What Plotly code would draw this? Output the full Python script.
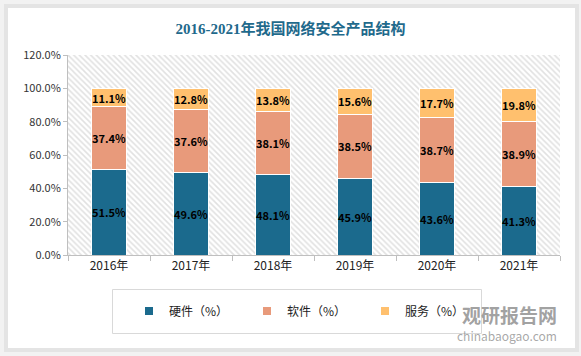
import plotly.graph_objects as go

years = ["2016年", "2017年", "2018年", "2019年", "2020年", "2021年"]
hardware = [51.5, 49.6, 48.1, 45.9, 43.6, 41.3]
software = [37.4, 37.6, 38.1, 38.5, 38.7, 38.9]
service = [11.1, 12.8, 13.8, 15.6, 17.7, 19.8]
series_names = ["硬件（%）", "软件（%）", "服务（%）"]
colors = ["#1B6A8D", "#E89A7B", "#FFC06E"]
yticks = [0, 20, 40, 60, 80, 100, 120]
ytick_labels = ["0.0%", "20.0%", "40.0%", "60.0%", "80.0%", "100.0%", "120.0%"]

W, H = 581, 356
L, R, T, B = 68, 21, 55, 101
PW, PH = W - L - R, H - T - B
SANS = "Noto Sans CJK SC, Noto Sans, sans-serif"


def px(xp):
    return (xp - L) / PW


def py(yp):
    return (H - B - yp) / PH


fig = go.Figure()

# hatched plot-area background on base axes
fig.add_trace(go.Scatter(
    x=[0, 1, 1, 0, 0], y=[0, 0, 1, 1, 0], mode="lines", fill="toself",
    fillcolor="rgba(255,255,255,0)", line=dict(width=0),
    fillpattern=dict(shape="\\", fgcolor="#c4c4c4", bgcolor="white", size=4, solidity=0.4),
    hoverinfo="skip", showlegend=False, xaxis="x", yaxis="y"))

for name, vals, col in zip(series_names, [hardware, software, service], colors):
    fig.add_trace(go.Bar(
        x=years, y=vals, name=name, marker=dict(color=col, line=dict(color="white", width=1)),
        text=vals, texttemplate="<b>%{y:.1f}%</b>", textposition="inside",
        insidetextanchor="middle", textangle=0,
        textfont=dict(family=SANS, size=11, color="black"),
        showlegend=False, xaxis="x2", yaxis="y2"))
    fig.add_trace(go.Scatter(
        x=[None], y=[None], mode="markers", name=name,
        marker=dict(symbol="square", size=8, color=col),
        xaxis="x2", yaxis="y2", showlegend=True))

fig.update_layout(
    width=W, height=H,
    margin=dict(l=L, r=R, t=T, b=B),
    paper_bgcolor="#f2f2f2", plot_bgcolor="rgba(0,0,0,0)",
    barmode="stack", bargap=0.57,
    uniformtext=dict(minsize=11, mode="show"),
    showlegend=True,
    title=dict(text="<b>2016-2021年我国网络安全产品结构</b>", x=0.5, xanchor="center",
               y=1 - 29 / H, yanchor="middle",
               font=dict(family="Liberation Serif, Noto Sans CJK SC, serif", size=15, color="#1F6A8C")),
    xaxis=dict(range=[0, 1], visible=False, fixedrange=True),
    yaxis=dict(range=[0, 1], visible=False, fixedrange=True),
    xaxis2=dict(overlaying="x", type="category", showline=True, linecolor="#bfbfbf",
                ticks="outside", tickson="boundaries", ticklen=5, tickcolor="#bfbfbf",
                tickfont=dict(family=SANS, size=12, color="#222"), showgrid=False),
    yaxis2=dict(overlaying="y", range=[0, 120], tickvals=yticks, ticktext=ytick_labels,
                showline=True, linecolor="#bfbfbf", ticks="outside", ticklen=4, tickcolor="#bfbfbf",
                showgrid=False, zeroline=False,
                tickfont=dict(family=SANS, size=11, color="#333")),
    legend=dict(orientation="h", x=px(306), xanchor="center", y=py(311), yanchor="middle",
                borderwidth=0, bgcolor="rgba(0,0,0,0)", traceorder="normal",
                entrywidth=73, entrywidthmode="pixels",
                font=dict(family=SANS, size=12, color="#222")),
    shapes=[
        dict(type="rect", xref="paper", yref="paper", x0=px(4), x1=px(579), y0=py(352), y1=py(4),
             fillcolor="#e4e4e4", line=dict(width=0), layer="below"),
        dict(type="rect", xref="paper", yref="paper", x0=px(8), x1=px(575), y0=py(348), y1=py(8),
             fillcolor="white", line=dict(width=0), layer="below"),
        dict(type="rect", xref="paper", yref="paper", x0=px(112.5), x1=px(481.5), y0=py(333.5), y1=py(289.5),
             fillcolor="rgba(0,0,0,0)", line=dict(width=1, color="#d9d9d9"), layer="below"),
    ],
    annotations=[
        dict(text="<b>观研报告网</b>", xref="paper", yref="paper", x=px(509), y=py(314),
             showarrow=False, font=dict(family=SANS, size=19, color="rgba(120,120,120,0.7)"),
             xanchor="center", yanchor="middle"),
        dict(text="chinabaogao.com", xref="paper", yref="paper", x=px(507), y=py(335),
             showarrow=False, font=dict(family=SANS, size=12, color="rgba(130,130,130,0.7)"),
             xanchor="center", yanchor="middle"),
    ],
)

fig.write_html("out.html", post_script="document.body.style.margin='0';",
               config={"displayModeBar": False})
